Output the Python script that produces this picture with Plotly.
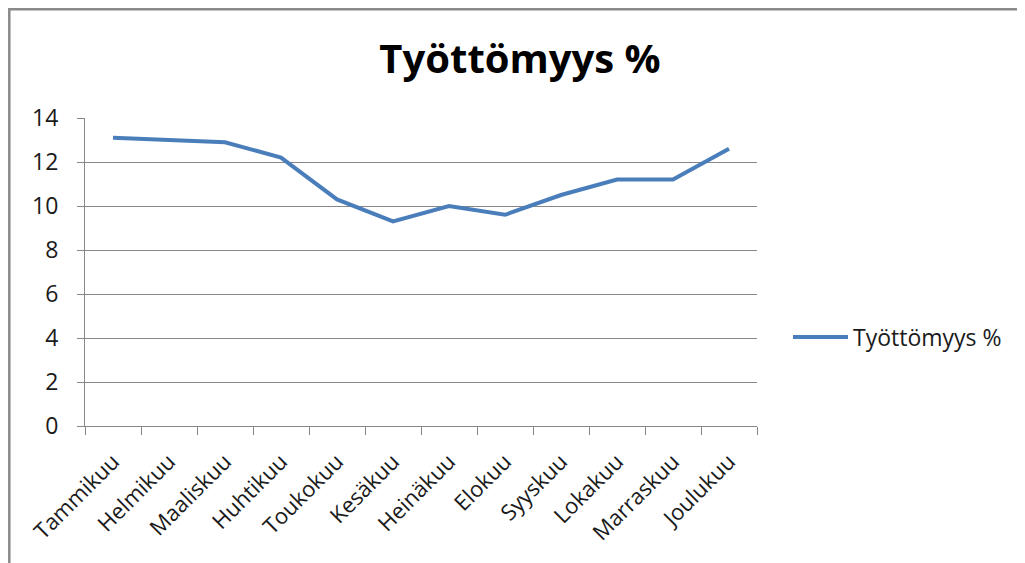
import plotly.graph_objects as go

# Kuukaudet ja työttömyysaste (%)
kuukaudet = ["Tammikuu", "Helmikuu", "Maaliskuu", "Huhtikuu", "Toukokuu", "Kesäkuu",
             "Heinäkuu", "Elokuu", "Syyskuu", "Lokakuu", "Marraskuu", "Joulukuu"]
tyottomyys = [13.1, 13.0, 12.9, 12.2, 10.3, 9.3, 10.0, 9.6, 10.5, 11.2, 11.2, 12.6]
y_ticks = [0, 2, 4, 6, 8, 10, 12, 14]

W, H = 1025, 563
OFF = 8  # sivun oletusmarginaali siirtää kuvaa 8 px
FONT = "Open Sans"
GRID = "#878787"


def px(x):
    return (x - OFF) / W


def py(y):
    return 1 - (y - OFF) / H


fig = go.Figure()
fig.add_trace(go.Scatter(
    x=kuukaudet, y=tyottomyys, name="Työttömyys %", mode="lines",
    line=dict(color="#4A7EBB", width=4),
))

fig.update_layout(
    width=W, height=H,
    margin=dict(l=0, r=0, t=0, b=0, autoexpand=False),
    paper_bgcolor="white", plot_bgcolor="white",
    font=dict(family=FONT, size=23, color="#1a1a1a"),
    title=dict(text="<b>Työttömyys %</b>", x=px(520), xanchor="center",
               y=py(59), yanchor="middle",
               font=dict(family=FONT, size=40, color="black")),
    showlegend=True,
    legend=dict(x=px(788), xanchor="left", y=py(337), yanchor="middle",
                itemwidth=55, font=dict(size=23), bgcolor="rgba(0,0,0,0)"),
    # Kaavion reunus (vasen ja yläreuna näkyvät)
    shapes=[dict(type="rect", xref="paper", yref="paper",
                 x0=1.3 / W, x1=1.05, y0=-0.05, y1=1 - 1.3 / H,
                 line=dict(color="#8a8a8a", width=2.5))],
)

fig.update_xaxes(
    domain=[px(85), px(757)], automargin=False,
    type="category", range=[-0.5, len(kuukaudet) - 0.5],
    tickangle=-45, tickson="boundaries",
    tickfont=dict(size=22), ticklabelstandoff=13,
    ticks="outside", ticklen=8, tickcolor=GRID,
    showline=True, linecolor=GRID, linewidth=1,
    showgrid=False, zeroline=False,
)
fig.update_yaxes(
    domain=[py(426), py(118)], automargin=False,
    range=[0, 14], tickvals=y_ticks, ticklabelstandoff=14,
    ticks="outside", ticklen=7, tickcolor=GRID,
    showline=True, linecolor=GRID, linewidth=1,
    showgrid=True, gridcolor=GRID, gridwidth=1, zeroline=False,
)

fig.write_html("out.html")
